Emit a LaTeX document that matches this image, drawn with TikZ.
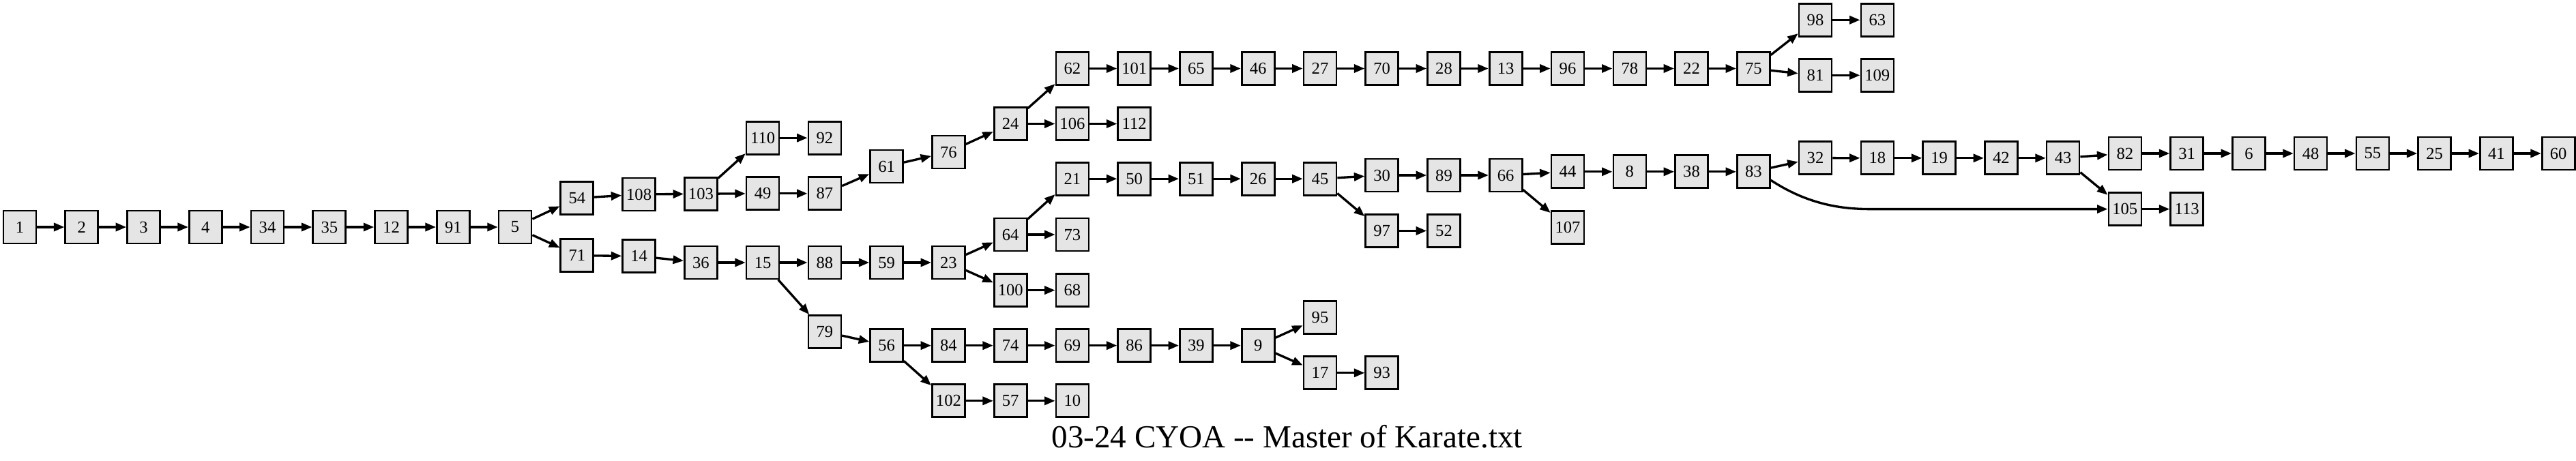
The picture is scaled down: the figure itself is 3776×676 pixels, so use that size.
\documentclass[tikz,border=0pt]{standalone}
\usepackage{fontspec}
\usetikzlibrary{arrows.meta}
\newfontfamily\nodefont{Liberation Serif}
\newfontfamily\titlefont{Liberation Serif}
\tikzset{
  box/.style={draw=black, line width=1.5pt, fill=gray!20, minimum width=0.96cm, minimum height=0.96cm, inner sep=0pt,
    font=\nodefont\fontsize{14}{16}\selectfont},
  edge/.style={draw=black, line width=1.9pt, -{Triangle[length=0.31cm,width=0.24cm]}},
}
\begin{document}
\begin{tikzpicture}[x=0.02cm,y=-0.02cm]
\useasboundingbox (0,0) rectangle (3776,676);
% main row
\node[box] (n1) at (29,333) {1};
\node[box] (n2) at (119.8,333) {2};
\node[box] (n3) at (210.5,333) {3};
\node[box] (n4) at (301.3,333) {4};
\node[box] (n34) at (392,333) {34};
\node[box] (n35) at (482.8,333) {35};
\node[box] (n12) at (573.6,333) {12};
\node[box] (n91) at (664.3,333) {91};
\node[box] (n5) at (755.1,333) {5};
% upper branch
\node[box] (n54) at (845.8,290.6) {54};
\node[box] (n108) at (936.6,285) {108};
\node[box] (n103) at (1027.4,284.2) {103};
\node[box] (n110) at (1118.1,202.2) {110};
\node[box] (n92) at (1208.9,202.2) {92};
\node[box] (n49) at (1118.1,283.8) {49};
\node[box] (n87) at (1208.9,283.8) {87};
\node[box] (n61) at (1299.6,244) {61};
\node[box] (n76) at (1390.4,223) {76};
\node[box] (n24) at (1481.2,181.5) {24};
\node[box] (n62) at (1571.9,100.5) {62};
\node[box] (n106) at (1571.9,181.5) {106};
\node[box] (n112) at (1662.7,181.5) {112};
\node[box] (n101) at (1662.7,100.5) {101};
\node[box] (n65) at (1753.4,100.5) {65};
\node[box] (n46) at (1844.2,100.5) {46};
\node[box] (n27) at (1935,100.5) {27};
\node[box] (n70) at (2025.7,100.5) {70};
\node[box] (n28) at (2116.5,100.5) {28};
\node[box] (n13) at (2207.2,100.5) {13};
\node[box] (n96) at (2298,100.5) {96};
\node[box] (n78) at (2388.8,100.5) {78};
\node[box] (n22) at (2479.5,100.5) {22};
\node[box] (n75) at (2570.3,100.5) {75};
\node[box] (n98) at (2661,29.3) {98};
\node[box] (n63) at (2751.8,29.3) {63};
\node[box] (n81) at (2661,110.4) {81};
\node[box] (n109) at (2751.8,110.4) {109};
% lower branch
\node[box] (n71) at (845.8,374.7) {71};
\node[box] (n14) at (936.6,375.6) {14};
\node[box] (n36) at (1027.4,385) {36};
\node[box] (n15) at (1118.1,385) {15};
\node[box] (n88) at (1208.9,385) {88};
\node[box] (n59) at (1299.6,385) {59};
\node[box] (n23) at (1390.4,385) {23};
\node[box] (n64) at (1481.2,344) {64};
\node[box] (n73) at (1571.9,344) {73};
\node[box] (n100) at (1481.2,425.6) {100};
\node[box] (n68) at (1571.9,425.6) {68};
\node[box] (n21) at (1571.9,262.2) {21};
\node[box] (n50) at (1662.7,262.2) {50};
\node[box] (n51) at (1753.4,262.2) {51};
\node[box] (n26) at (1844.2,262.2) {26};
\node[box] (n45) at (1935,262.2) {45};
\node[box] (n30) at (2025.7,257) {30};
\node[box] (n89) at (2116.5,257) {89};
\node[box] (n66) at (2207.2,257) {66};
\node[box] (n97) at (2025.7,338.5) {97};
\node[box] (n52) at (2116.5,338.5) {52};
\node[box] (n44) at (2298,251.8) {44};
\node[box] (n8) at (2388.8,251.8) {8};
\node[box] (n38) at (2479.5,251.8) {38};
\node[box] (n83) at (2570.3,251.8) {83};
\node[box] (n107) at (2298,333.3) {107};
\node[box] (n32) at (2661,231.6) {32};
\node[box] (n18) at (2751.8,231.8) {18};
\node[box] (n19) at (2842.6,231.8) {19};
\node[box] (n42) at (2933.3,231.8) {42};
\node[box] (n43) at (3024.1,231.8) {43};
\node[box] (n82) at (3114.8,225) {82};
\node[box] (n31) at (3205.6,225) {31};
\node[box] (n6) at (3296.4,225) {6};
\node[box] (n48) at (3387.1,225) {48};
\node[box] (n55) at (3477.9,225) {55};
\node[box] (n25) at (3568.6,225) {25};
\node[box] (n41) at (3659.4,225) {41};
\node[box] (n60) at (3750.2,225) {60};
\node[box] (n105) at (3114.8,306.6) {105};
\node[box] (n113) at (3205.6,306.6) {113};
% bottom branch
\node[box] (n79) at (1208.9,486.4) {79};
\node[box] (n56) at (1299.6,506.7) {56};
\node[box] (n84) at (1390.4,506.7) {84};
\node[box] (n74) at (1481.2,506.7) {74};
\node[box] (n69) at (1571.9,506.7) {69};
\node[box] (n86) at (1662.7,506.7) {86};
\node[box] (n39) at (1753.4,506.7) {39};
\node[box] (n9) at (1844.2,506.7) {9};
\node[box] (n95) at (1935,465.7) {95};
\node[box] (n17) at (1935,546.8) {17};
\node[box] (n93) at (2025.7,546.8) {93};
\node[box] (n102) at (1390.4,587.8) {102};
\node[box] (n57) at (1481.2,587.8) {57};
\node[box] (n10) at (1571.9,587.8) {10};
% title
\node[font=\titlefont\fontsize{26.8}{30}\selectfont, anchor=base, inner sep=0pt] (title) at (1886.7,656) {03-24 CYOA -{}- Master of Karate.txt};
% edges
\foreach \a/\b in {1/2,2/3,3/4,4/34,34/35,35/12,12/91,91/5,5/54,5/71,54/108,108/103,103/110,103/49,110/92,49/87,87/61,61/76,76/24,24/62,24/106,106/112,62/101,101/65,65/46,46/27,27/70,70/28,28/13,13/96,96/78,78/22,22/75,75/98,75/81,98/63,81/109,
71/14,14/36,36/15,15/88,15/79,88/59,59/23,23/64,23/100,64/21,64/73,100/68,21/50,50/51,51/26,26/45,45/30,45/97,97/52,30/89,89/66,66/44,66/107,44/8,8/38,38/83,83/32,32/18,18/19,19/42,42/43,43/82,43/105,82/31,31/6,6/48,48/55,55/25,25/41,41/60,105/113,
79/56,56/84,56/102,84/74,74/69,69/86,86/39,39/9,9/95,9/17,17/93,102/57,57/10}
  \draw[edge] (n\a) -- (n\b);
\coordinate (c83) at (2741,306.6);
\draw[edge] (n83.-26) .. controls (2650,300) and (2700,306.6) .. (c83) -- (n105);
\end{tikzpicture}
\end{document}
